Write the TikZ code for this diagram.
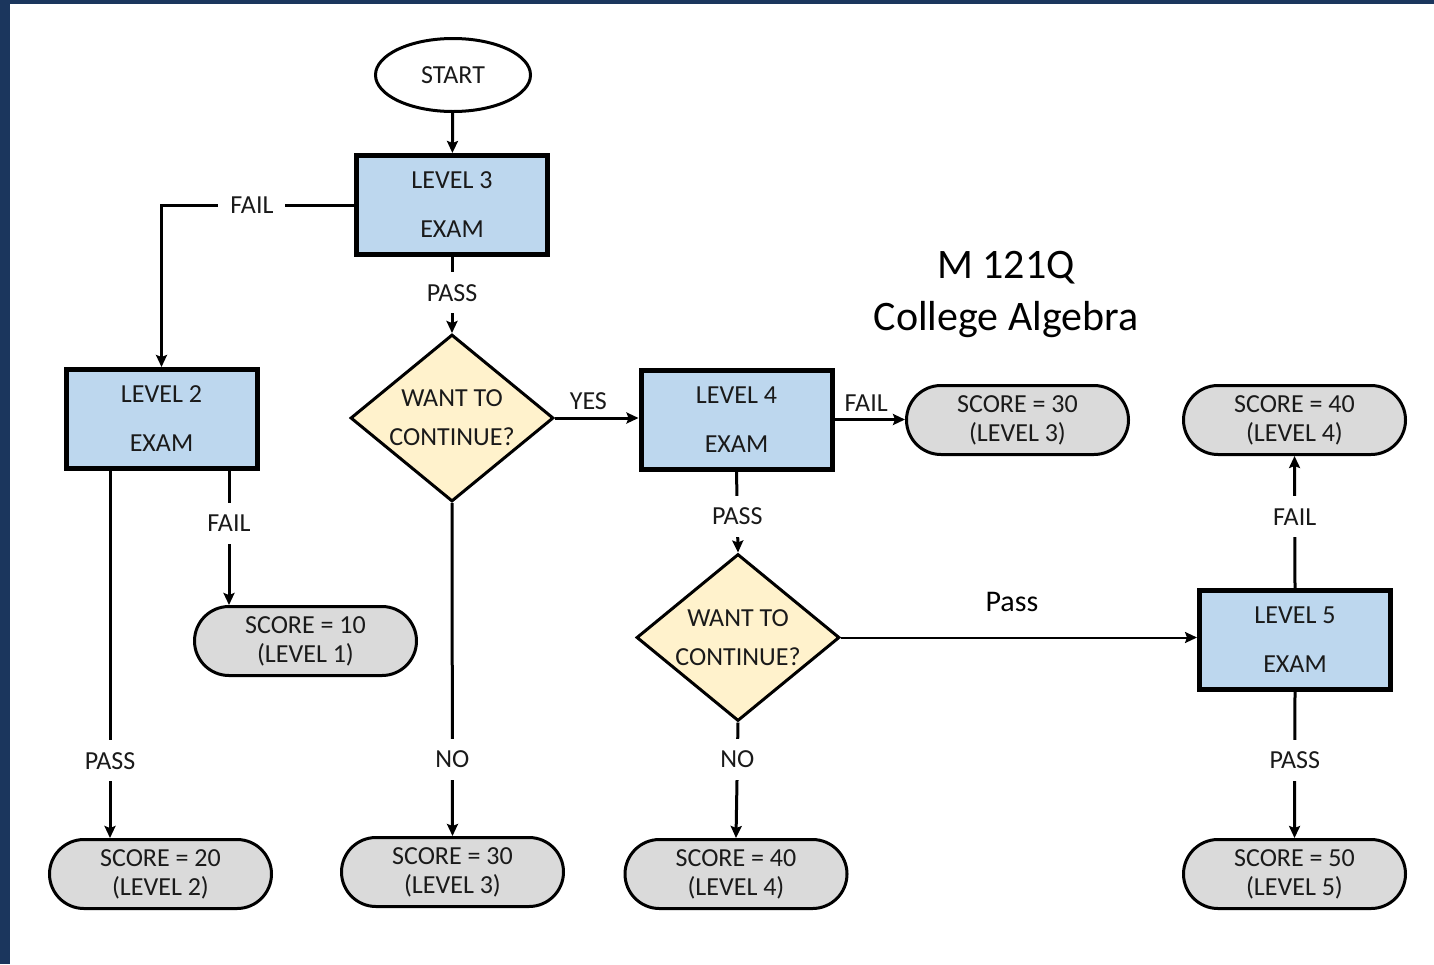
\documentclass[tikz,border=0pt]{standalone}
\usepackage{fontspec}
\setmainfont{Carlito}
\usetikzlibrary{shapes.geometric,shapes.misc,arrows.meta}
\definecolor{navy}{HTML}{1B365D}
\definecolor{boxblue}{HTML}{BDD7EE}
\definecolor{cream}{HTML}{FFF2CC}
\definecolor{grayfill}{HTML}{DADADA}
\definecolor{ink}{HTML}{1A1A1A}
\tikzset{
 exam/.style={draw, line width=2.5pt, fill=boxblue, minimum width=95.5pt, minimum height=49.5pt, inner sep=0pt, align=center, font=\fontsize{13}{24.5}\selectfont, text=ink},
 result/.style={rounded rectangle, draw, line width=1.5pt, fill=grayfill, minimum width=111pt, minimum height=34.5pt, inner sep=0pt, align=center, font=\fontsize{13}{14.5}\selectfont, text=ink},
 choice/.style={diamond, draw, line width=1.5pt, fill=cream, aspect=1.22, minimum width=101.5pt, minimum height=83.5pt, inner sep=0pt, align=center, font=\fontsize{13}{19.5}\selectfont, text=ink},
 terminal/.style={ellipse, draw, line width=1.5pt, fill=white, minimum width=77.5pt, minimum height=36.5pt, inner sep=0pt, font=\fontsize{13}{15}\selectfont, text=ink},
 arr/.style={line width=1.5pt, -{Stealth[length=6pt,width=5.5pt,inset=1pt]}},
 thinarr/.style={line width=1pt, -{Stealth[length=6pt,width=5.5pt,inset=1pt]}},
 lbl/.style={fill=white, inner xsep=6pt, inner ysep=6pt, font=\fontsize{13}{15}\selectfont, text=ink},
 tag/.style={font=\fontsize{13}{15}\selectfont, text=ink},
}
\begin{document}
\begin{tikzpicture}[x=0.5pt,y=-0.5pt]
\useasboundingbox (0,0) rectangle (1434,964);
\fill[white] (0,0) rectangle (1434,964);
\fill[navy] (0,0) rectangle (10,964);
\fill[navy] (0,0) rectangle (1434,4);

% nodes
\node[terminal] (start) at (453,75) {START};
\node[exam] (l3) at (452,205) {LEVEL 3\\EXAM};
\node[exam] (l2) at (161.5,419) {LEVEL 2\\EXAM};
\node[exam] (l4) at (736.5,419.5) {LEVEL 4\\EXAM};
\node[exam] (l5) at (1295,640) {LEVEL 5\\EXAM};
\node[choice] (d1) at (452,418) {WANT TO\\CONTINUE?};
\node[choice] (d2) at (738,637.5) {WANT TO\\CONTINUE?};
\node[result] (s30a) at (1017.5,420) {SCORE = 30\\(LEVEL 3)};
\node[result] (s40a) at (1294.5,420) {SCORE = 40\\(LEVEL 4)};
\node[result] (s10) at (305.5,641) {SCORE = 10\\(LEVEL 1)};
\node[result] (s20) at (160.5,874) {SCORE = 20\\(LEVEL 2)};
\node[result] (s30b) at (452.5,872) {SCORE = 30\\(LEVEL 3)};
\node[result] (s40b) at (736,874) {SCORE = 40\\(LEVEL 4)};
\node[result] (s50) at (1294.5,874) {SCORE = 50\\(LEVEL 5)};
\node[align=center, font=\fontsize{21}{26}\selectfont, text=black] (title) at (1006,294) {M 121Q\\College Algebra};

\coordinate (xa) at (110,0);
\coordinate (xb) at (229,0);

% connectors
\draw[arr] (start) -- (l3);
\draw[arr] (l3.west) -| node[lbl, pos=0.265]{FAIL} (l2.north);
\draw[arr] (l3.south) -- node[lbl, pos=0.47]{PASS} (d1.north);
\draw[arr] (d1.east) -- node[tag, above, pos=0.4]{YES} (d1.east -| l4.west);
\draw[arr] (l4.east) -- node[tag, above, pos=0.45]{FAIL} (l4.east -| s30a.west);
\draw[arr] (l4.south) -- node[lbl, pos=0.55]{PASS} (d2.north);
\draw[thinarr] (d2.east) -- node[above=9pt, pos=0.48, font=\fontsize{15}{18}\selectfont, text=black]{Pass} (d2.east -| l5.west);
\draw[arr] (l5.north) -- node[lbl, pos=0.54]{FAIL} (s40a.south);
\draw[arr] (l5.south) -- node[lbl, pos=0.47]{PASS} (s50.north);
\draw[arr] (d1.south) -- node[lbl, pos=0.77]{NO} (s30b.north);
\draw[arr] (d2.south) -- node[lbl, pos=0.32]{NO} (s40b.north);
\draw[arr] (l2.south -| xa) -- node[lbl, pos=0.79]{PASS} (s20.north -| xa);
\draw[arr] (l2.south -| xb) -- node[lbl, pos=0.39]{FAIL} (s10.north -| xb);
\end{tikzpicture}
\end{document}
